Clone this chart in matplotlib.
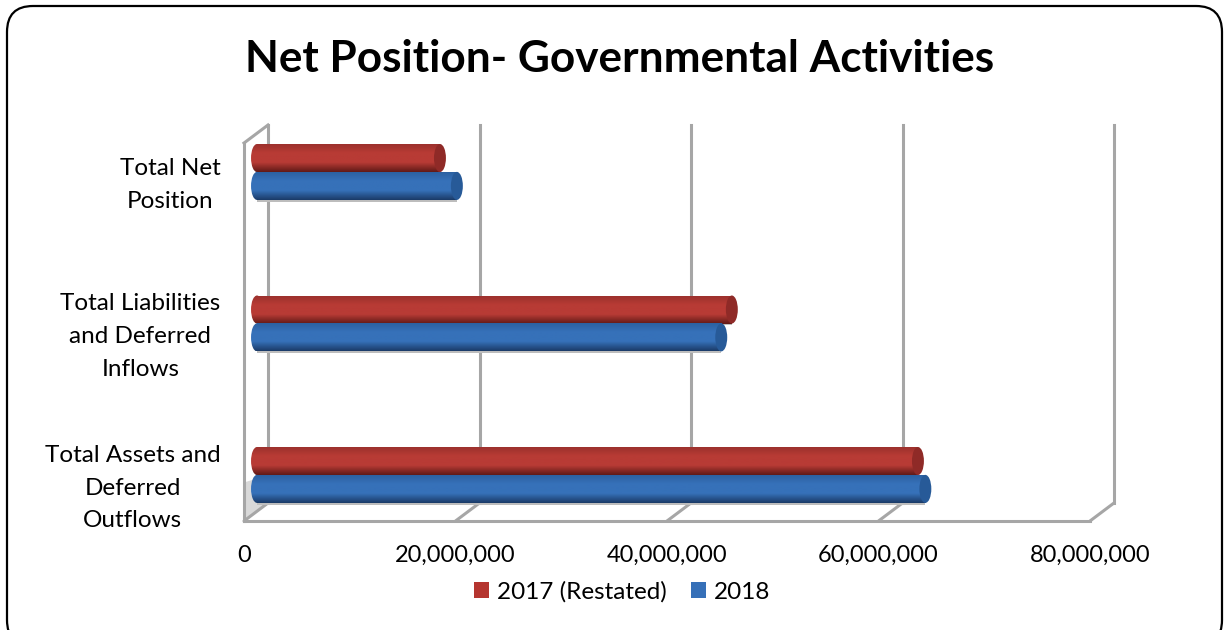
import numpy as np
import matplotlib
matplotlib.use("Agg")
import matplotlib.pyplot as plt
from matplotlib.patches import Ellipse, FancyBboxPatch, Polygon

# =========================================
# DATA
# =========================================
categories = ["Total Assets and\nDeferred\nOutflows",
              "Total Liabilities\nand Deferred\nInflows",
              "Total Net\nPosition"]
values_2017 = [62500000, 44900000, 17300000]
values_2018 = [63200000, 43900000, 18900000]
series_names = ["2017 (Restated)", "2018"]
x_ticks = [0, 20000000, 40000000, 60000000, 80000000]
x_labels = ["0", "20,000,000", "40,000,000", "60,000,000", "80,000,000"]
title = "Net Position- Governmental Activities"

# =========================================
# STYLE
# =========================================
W, H = 1228, 630
FONT = "Lato"
GREY = "#a6a6a6"

# depth of the fake 3D box, data units
DEPTH_X = 2270000
DEPTH_Y = 0.119
BAR_START = 1230000
BAR_H = 0.185
CAP_W = 1130000

RED = {"top": "#99302c", "mid": "#b83b35", "bot": "#611a18", "cap": "#8f2a27", "flat": "#b5352f"}
BLUE = {"top": "#2b5f9f", "mid": "#3671b9", "bot": "#1b3b68", "cap": "#275a98", "flat": "#3670b8"}

plt.rcParams["font.family"] = [FONT, "DejaVu Sans"]

fig = plt.figure(figsize=(W / 100, H / 100), dpi=100)

# background layer in pixels: frame and title
bg = fig.add_axes([0, 0, 1, 1])
bg.set_xlim(0, W)
bg.set_ylim(H, 0)
bg.axis("off")
bg.add_patch(FancyBboxPatch((7, 6), 1215, 640, boxstyle="round,pad=0,rounding_size=26",
                            fc="white", ec="black", lw=1.6))
bg.text(620, 59, title, ha="center", va="center", fontsize=31.8, fontweight="bold", color="black")

# chart layer
ax = fig.add_axes([244 / W, 1 - 521 / H, (1090 - 244) / W, (521 - 125) / H])
ax.patch.set_alpha(0)
xlim = (0, 80000000)
ylim = (-0.304, 2.31)

for s in ax.spines.values():
    s.set_visible(False)


def draw_frame():
    lw = 2.2
    # floor sliver at the left corner
    ax.add_patch(Polygon([(0, ylim[0]), (DEPTH_X, ylim[0] + DEPTH_Y), (DEPTH_X, 0.0), (0, -0.05)],
                         fc="#d9d9d9", ec="none", zorder=1))
    for t in x_ticks:
        ax.plot([t, t + DEPTH_X], [ylim[0], ylim[0] + DEPTH_Y], color=GREY, lw=lw,
                clip_on=False, zorder=1, solid_capstyle="round")
        ax.plot([t + DEPTH_X, t + DEPTH_X], [ylim[0] + DEPTH_Y, ylim[1]], color=GREY, lw=lw,
                clip_on=False, zorder=1)
    ax.plot([0, xlim[1]], [ylim[0], ylim[0]], color=GREY, lw=lw, clip_on=False, zorder=1)
    ax.plot([0, 0], [ylim[0], ylim[1] - DEPTH_Y], color=GREY, lw=lw, clip_on=False, zorder=1)
    ax.plot([0, DEPTH_X], [ylim[1] - DEPTH_Y, ylim[1]], color=GREY, lw=lw, clip_on=False, zorder=1)


def draw_cylinder(y, value, c, z):
    end = BAR_START + value
    # soft shadow under the bar
    ax.barh(y - 0.012, value, height=BAR_H, left=BAR_START, color="#bdbdbd", zorder=z - 0.2)
    bars = ax.barh(y, value, height=BAR_H, left=BAR_START, color=c["flat"], zorder=z)
    cmap = matplotlib.colors.LinearSegmentedColormap.from_list(
        "cyl", [c["top"], c["mid"], c["mid"], c["bot"]])
    grad = np.linspace(0, 1, 64).reshape(-1, 1)
    extent = (BAR_START - CAP_W, end, y - BAR_H / 2, y + BAR_H / 2)
    # rounded left end takes the same gradient as the body
    left = Ellipse((BAR_START, y), CAP_W, BAR_H, fc="none", ec="none", zorder=z)
    ax.add_patch(left)
    im_left = ax.imshow(grad, extent=extent, aspect="auto", cmap=cmap, origin="upper", zorder=z + 0.1)
    im_left.set_clip_path(left)
    im = ax.imshow(grad, extent=extent, aspect="auto", cmap=cmap, origin="upper", zorder=z + 0.1)
    im.set_clip_path(bars[0])
    ax.add_patch(Ellipse((end, y), CAP_W, BAR_H, fc=c["cap"], ec="none", zorder=z + 0.2))


draw_frame()
y_pos = np.arange(len(categories))
for i in y_pos:
    draw_cylinder(i + 0.092, values_2017[i], RED, 3)
    draw_cylinder(i - 0.092, values_2018[i], BLUE, 4)

ax.set_xlim(*xlim)
ax.set_ylim(*ylim)
ax.set_xticks(x_ticks)
ax.set_xticklabels(x_labels, fontsize=17, color="black")
ax.set_yticks(y_pos - 0.035)
ax.set_yticklabels(categories, fontsize=17.5, color="black", ma="center", linespacing=1.68)
ax.tick_params(axis="x", length=0, pad=17)
ax.tick_params(axis="y", length=0, pad=17)

# legend drawn from proxy squares
h1 = plt.Rectangle((0, 0), 1, 1, fc=RED["flat"])
h2 = plt.Rectangle((0, 0), 1, 1, fc=BLUE["flat"])
fig.legend([h1, h2], series_names, loc="center", bbox_to_anchor=(622 / W, 1 - 592 / H), ncol=2,
           frameon=False, fontsize=17.5, handlelength=0.62, handleheight=0.62, handletextpad=0.32,
           columnspacing=1.0, labelcolor="black")

fig.savefig("out.png", dpi=100)
